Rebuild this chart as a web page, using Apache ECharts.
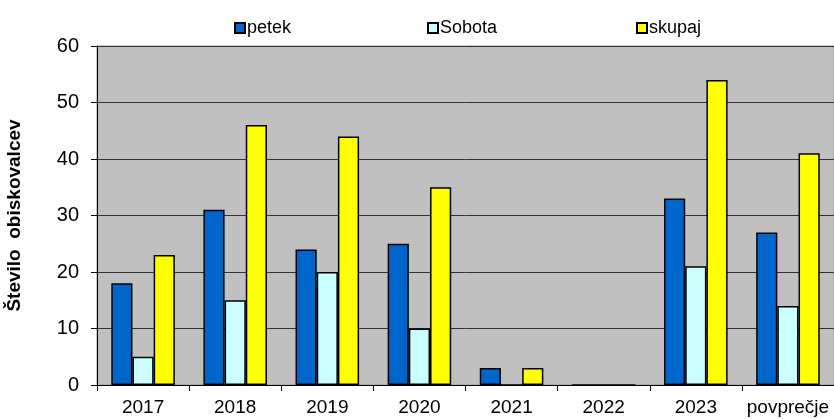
<!DOCTYPE html>
<html><head><meta charset="utf-8">
<script src="https://cdn.jsdelivr.net/npm/echarts@6/dist/echarts.min.js"></script>
<style>html,body{margin:0;padding:0;background:#fff}#c{width:834px;height:419px}</style>
</head><body><div id="c"></div>
<script>
const categories = ['2017','2018','2019','2020','2021','2022','2023','povprečje'];
const petek = [18, 31, 24, 25, 3, 0, 33, 27];
const sobota = [5, 15, 20, 10, 0, 0, 21, 14];
const skupaj = [23, 46, 44, 35, 3, 0, 54, 41];
const yTicks = {min: 0, max: 60, interval: 10};

const font = 'Arial, "Liberation Sans", sans-serif';
const chart = echarts.init(document.getElementById('c'));
const legendBase = {top: 14, itemWidth: 10, itemHeight: 10, itemGap: 0,
  textStyle: {fontFamily: font, fontSize: 18, color: '#000', padding: [0,0,0,-3]}, icon: 'rect'};
chart.setOption({
  animation: false,
  legend: [
    Object.assign({left: 229, data: ['petek']}, legendBase),
    Object.assign({left: 422, data: ['Sobota']}, legendBase),
    Object.assign({left: 631, data: ['skupaj']}, legendBase)
  ],
  grid: {left: 97, right: 0, top: 46, bottom: 34, outerBoundsMode: 'none', containLabel: false,
    show: true, backgroundColor: '#c0c0c0', borderColor: '#9a9a9a', borderWidth: 1},
  xAxis: {type: 'category', data: categories,
    axisLine: {lineStyle: {color: '#000', width: 1}},
    axisTick: {show: true, length: 6, lineStyle: {color: '#000'}},
    axisLabel: {interval: 0, fontFamily: font, fontSize: 19, color: '#000', margin: 13}},
  yAxis: {type: 'value', min: yTicks.min, max: yTicks.max, interval: yTicks.interval,
    name: 'Število  obiskovalcev', nameLocation: 'middle', nameRotate: 90, nameGap: 73,
    nameTextStyle: {fontFamily: font, fontSize: 19, fontWeight: 'bold', color: '#000'},
    axisLine: {show: true, lineStyle: {color: '#000', width: 1}},
    axisTick: {show: true, length: 6, lineStyle: {color: '#000'}},
    axisLabel: {fontFamily: font, fontSize: 20, color: '#000', margin: 18},
    splitLine: {lineStyle: {color: '#333', width: 1}}},
  series: [
    {name: 'petek', type: 'bar', data: petek, barGap: '0%', barCategoryGap: '31%',
      itemStyle: {color: '#0066CC', borderColor: '#000', borderWidth: 1.5}},
    {name: 'Sobota', type: 'bar', data: sobota, barGap: '0%', barCategoryGap: '31%',
      itemStyle: {color: '#CCFFFF', borderColor: '#000', borderWidth: 1.5}},
    {name: 'skupaj', type: 'bar', data: skupaj, barGap: '0%', barCategoryGap: '31%',
      itemStyle: {color: '#FFFF00', borderColor: '#000', borderWidth: 1.5}}
  ]
});
</script></body></html>
